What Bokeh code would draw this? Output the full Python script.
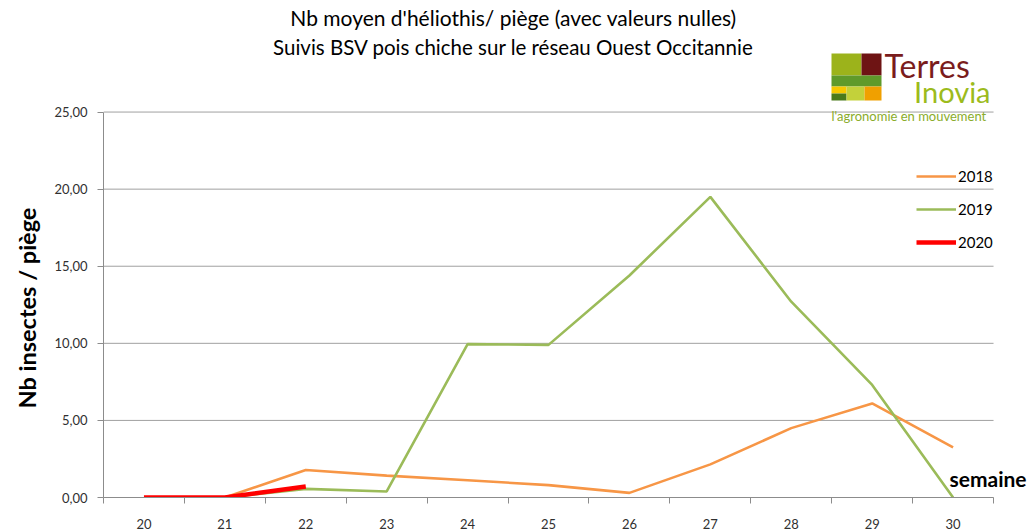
from bokeh.plotting import figure
from bokeh.models import (FixedTicker, Label, Legend, LegendItem, BoxAnnotation, Range1d, Title)
from bokeh.embed import file_html
from bokeh.resources import INLINE

# ---- data ----
weeks = [20, 21, 22, 23, 24, 25, 26, 27, 28, 29, 30]
week_labels = [str(w) for w in weeks]
weeks_2018 = [21, 22, 23, 24, 25, 26, 27, 28, 29, 30]
values_2018 = [0.0, 1.78, 1.42, 1.12, 0.80, 0.30, 2.15, 4.50, 6.10, 3.25]
weeks_2019 = [21, 22, 23, 24, 25, 26, 27, 28, 29, 30]
values_2019 = [0.0, 0.56, 0.39, 9.95, 9.90, 14.40, 19.50, 12.70, 7.30, 0.0]
weeks_2020 = [20, 21, 22]
values_2020 = [0.0, 0.0, 0.71]
y_ticks = [0, 5, 10, 15, 20, 25]
y_tick_labels = ["0,00", "5,00", "10,00", "15,00", "20,00", "25,00"]
series_names = ["2018", "2019", "2020"]

FONT = "Lato"
AXIS_GRAY = "#8c8c8c"
TEXT = "#303030"

W, H = 1035, 531
LEFT, BOTTOM = 102, 32          # space for axes
PLOT_W, PLOT_H = 891, 387       # size of the data area (weeks 19.5..30.5, values 0..25)
x0, x1 = weeks[0] - 0.5, weeks[-1] + 0.5
y0, y1 = y_ticks[0], y_ticks[-1]
frame_w, frame_h = W - LEFT, H - BOTTOM
x_end = x0 + (x1 - x0) * frame_w / PLOT_W
y_end = y0 + (y1 - y0) * frame_h / PLOT_H

p = figure(width=W, height=H, output_backend="svg", toolbar_location=None,
           x_range=Range1d(x0, x_end), y_range=Range1d(y0, y_end),
           min_border_left=LEFT, min_border_right=0, min_border_top=0, min_border_bottom=BOTTOM)
p.outline_line_color = None
p.background_fill_color = "white"
p.border_fill_color = "white"

# x axis: labels at week centres, ticks at boundaries
p.xaxis.bounds = (x0, x1)
p.xaxis.ticker = FixedTicker(ticks=weeks, minor_ticks=[w - 0.5 for w in weeks] + [x1])
p.xaxis.major_label_overrides = {w: l for w, l in zip(weeks, week_labels)}
p.xaxis.major_tick_out = 0
p.xaxis.major_tick_in = 0
p.xaxis.minor_tick_out = 6
p.xaxis.minor_tick_in = 0
p.xaxis.minor_tick_line_color = AXIS_GRAY
p.xaxis.axis_line_color = AXIS_GRAY
p.xaxis.major_label_standoff = 15
p.xaxis.major_label_text_font = FONT
p.xaxis.major_label_text_font_size = "13px"
p.xaxis.major_label_text_color = TEXT
p.xgrid.grid_line_color = None
p.ygrid.grid_line_color = None

# y axis
p.yaxis.bounds = (y0, y1)
p.yaxis.ticker = FixedTicker(ticks=y_ticks, minor_ticks=[])
p.yaxis.major_label_overrides = {t: l for t, l in zip(y_ticks, y_tick_labels)}
p.yaxis.major_tick_out = 6
p.yaxis.major_tick_in = 0
p.yaxis.major_tick_line_color = AXIS_GRAY
p.yaxis.axis_line_color = AXIS_GRAY
p.yaxis.major_label_standoff = 10
p.yaxis.major_label_text_font = FONT
p.yaxis.major_label_text_font_size = "13px"
p.yaxis.major_label_text_color = TEXT

# y axis title, placed beside the axis and aligned to the data area
p.add_layout(Title(text="Nb insectes / piège", align="left", offset=89, standoff=21,
                   text_font=FONT, text_font_size="23.5px", text_font_style="bold",
                   text_color="#000000"), "left")

# horizontal gridlines limited to the data area
p.segment(x0=[x0] * len(y_ticks), x1=[x1] * len(y_ticks), y0=y_ticks, y1=y_ticks,
          line_color="#a0a0a0", line_width=1, level="underlay")

# series
r18 = p.line(weeks_2018, values_2018, line_color="#f79646", line_width=2.6)
r19 = p.line(weeks_2019, values_2019, line_color="#9bbb59", line_width=2.6)
r20 = p.line(weeks_2020, values_2020, line_color="#ff0000", line_width=4.5)

legend = Legend(items=[LegendItem(label=series_names[0], renderers=[r18]),
                       LegendItem(label=series_names[1], renderers=[r19]),
                       LegendItem(label=series_names[2], renderers=[r20])],
                location=(813, 245), orientation="vertical",
                background_fill_alpha=0, border_line_color=None,
                padding=0, margin=0, spacing=13, glyph_width=40, glyph_height=20,
                label_height=20, label_standoff=2,
                label_text_font=FONT, label_text_font_size="15px", label_text_color="#000000")
p.add_layout(legend, "center")

# texts (screen units, relative to the data-area bottom-left corner)
p.add_layout(Label(x=410, y=480, x_units="screen", y_units="screen",
                   text="Nb moyen d'héliothis/ piège (avec valeurs nulles)",
                   text_font=FONT, text_font_size="21px", text_color="#000000",
                   text_align="center", text_baseline="middle"))
p.add_layout(Label(x=410, y=451, x_units="screen", y_units="screen",
                   text="Suivis BSV pois chiche sur le réseau Ouest Occitannie",
                   text_font=FONT, text_font_size="20.5px", text_color="#000000",
                   text_align="center", text_baseline="middle"))
p.add_layout(Label(x=846, y=19, x_units="screen", y_units="screen", text="semaine",
                   text_font=FONT, text_font_size="21px", text_font_style="bold",
                   text_color="#000000", text_align="left", text_baseline="middle"))

# logo (decorative), page coords -> screen coords
def box(l, r, t, b, color):
    p.add_layout(BoxAnnotation(left=l - LEFT, right=r - LEFT, top=H - BOTTOM - t, bottom=H - BOTTOM - b,
                               left_units="screen", right_units="screen",
                               top_units="screen", bottom_units="screen",
                               fill_color=color, fill_alpha=1, line_color=None))

box(830, 860, 55, 77, "#9cb31b")
box(860, 880, 55, 77, "#6e1414")
box(830, 880, 77, 88, "#5f9a2a")
box(830, 845, 88, 95, "#f5c800")
box(830, 845, 95, 102, "#4a7a1a")
box(845, 863, 88, 102, "#c3d13a")
box(863, 880, 88, 102, "#f0a000")
p.add_layout(Label(x=883 - LEFT, y=H - BOTTOM - 67, x_units="screen", y_units="screen", text="Terres",
                   text_font=FONT, text_font_size="32px", text_color="#7a1c1c",
                   text_align="left", text_baseline="middle"))
p.add_layout(Label(x=989 - LEFT, y=H - BOTTOM - 93, x_units="screen", y_units="screen", text="Inovia",
                   text_font=FONT, text_font_size="29px", text_color="#9cbb1c",
                   text_align="right", text_baseline="middle"))
p.add_layout(Label(x=830 - LEFT, y=H - BOTTOM - 117, x_units="screen", y_units="screen",
                   text="l'agronomie en mouvement",
                   text_font=FONT, text_font_size="13px", text_color="#8aac2a",
                   text_align="left", text_baseline="middle"))

open("out.html", "w").write(file_html(p, INLINE))
